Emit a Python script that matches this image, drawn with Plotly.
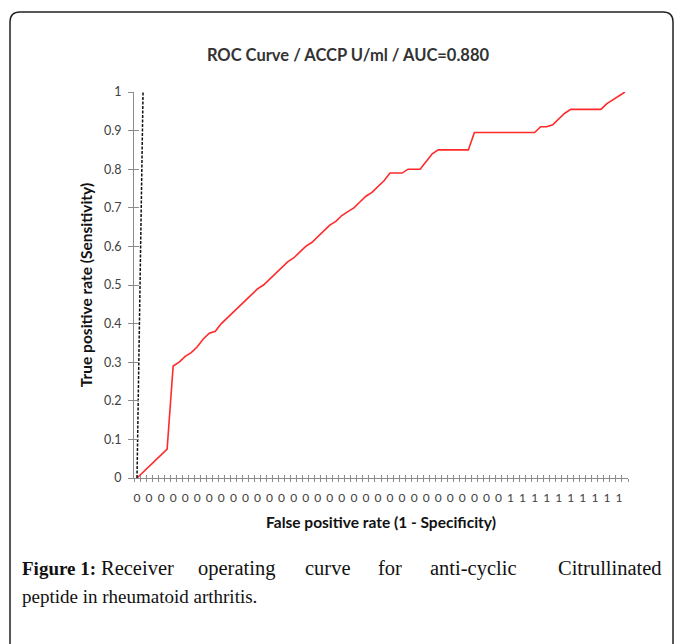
import plotly.graph_objects as go

# ---------------- data ----------------
tpr = [0.0, 0.015, 0.03, 0.045, 0.06, 0.075, 0.29, 0.30, 0.315, 0.325,
       0.34, 0.36, 0.375, 0.38, 0.40, 0.415, 0.43, 0.445, 0.46, 0.475,
       0.49, 0.50, 0.515, 0.53, 0.545, 0.56, 0.57, 0.585, 0.60, 0.61,
       0.625, 0.64, 0.655, 0.665, 0.68, 0.69, 0.70, 0.715, 0.73, 0.74,
       0.755, 0.77, 0.79, 0.79, 0.79, 0.80, 0.80, 0.80, 0.82, 0.84,
       0.85, 0.85, 0.85, 0.85, 0.85, 0.85, 0.895, 0.895, 0.895, 0.895,
       0.895, 0.895, 0.895, 0.895, 0.895, 0.895, 0.895, 0.91, 0.91, 0.915,
       0.93, 0.945, 0.955, 0.955, 0.955, 0.955, 0.955, 0.955, 0.97, 0.98,
       0.99, 1.0]
ref_line = [0, 1]
x_tick_labels = ["0", "0", "0", "0", "0", "0", "0", "0", "0", "0",
                 "0", "0", "0", "0", "0", "0", "0", "0", "0", "0",
                 "0", "0", "0", "0", "0", "0", "0", "0", "0", "0",
                 "0", "1", "1", "1", "1", "1", "1", "1", "1", "1", "1"]
y_ticks = [0, 0.1, 0.2, 0.3, 0.4, 0.5, 0.6, 0.7, 0.8, 0.9, 1]

title_text = "ROC Curve / ACCP U/ml / AUC=0.880"
x_title = "False positive rate (1 - Specificity)"
y_title = "True positive rate (Sensitivity)"
caption_line1 = [("<b>Figure 1:</b>", 20), ("Receiver", 99),
                 ("operating", 196), ("curve", 303),
                 ("for", 376), ("anti-cyclic", 428),
                 ("Citrullinated", 556)]
caption_line2 = "peptide in rheumatoid arthritis."

# ---------------- layout geometry (pixels) ----------------
W, H = 683, 644
PL, PR, PT, PB = 134, 628, 92, 478


def fx(X):
    return (X - PL) / (PR - PL)


def fy(Y):
    return (PB - Y) / (PB - PT)


n = len(tpr)
idx = list(range(n))
label_pos = idx[::2]
boundaries = [i - 0.5 for i in range(n + 1)]
xr = [-0.5, n - 0.5]

AX = "#8c8c8c"
TXT = "#404040"
FONT = "Lato"

fig = go.Figure()
fig.add_trace(go.Scatter(x=idx, y=tpr, mode="lines",
                         line=dict(color="#ff2a2a", width=1.6),
                         hoverinfo="skip", showlegend=False))
fig.add_trace(go.Scatter(x=idx[:len(ref_line)], y=ref_line, mode="lines",
                         line=dict(color="#111111", width=1.5, dash="3px,1.5px"),
                         hoverinfo="skip", showlegend=False))
# empty traces so the overlay tick axes are drawn
for xa, ya in (("x2", "y"), ("x3", "y"), ("x", "y2")):
    fig.add_trace(go.Scatter(x=[], y=[], xaxis=xa, yaxis=ya, mode="lines",
                             hoverinfo="skip", showlegend=False))

border = (f"M {fx(10)},{fy(700)} L {fx(10)},{fy(22)} "
          f"Q {fx(10)},{fy(12)} {fx(20)},{fy(12)} "
          f"L {fx(663)},{fy(12)} Q {fx(673)},{fy(12)} {fx(673)},{fy(22)} "
          f"L {fx(673)},{fy(700)}")

annotations = []
for word, x0 in caption_line1:
    size = 19 if word.startswith("<b>") else 20.5
    annotations.append(dict(text=word, x=fx(x0), y=fy(568), xref="paper", yref="paper",
                            xanchor="left", yanchor="middle", showarrow=False,
                            font=dict(family="Liberation Serif", size=size, color="#111111")))
annotations.append(dict(text=caption_line2, x=fx(20), y=fy(596), xref="paper", yref="paper",
                        xanchor="left", yanchor="middle", showarrow=False,
                        font=dict(family="Liberation Serif", size=19, color="#111111")))

fig.update_layout(
    width=W, height=H,
    margin=dict(l=PL, r=W - PR, t=PT, b=H - PB),
    paper_bgcolor="white", plot_bgcolor="white",
    showlegend=False,
    title=dict(text=title_text, x=348 / W, xref="container", xanchor="center",
               y=1 - 55 / H, yref="container", yanchor="middle",
               font=dict(family=FONT, size=16.5, color="#333333", weight="bold")),
    xaxis=dict(range=xr, tickmode="array", tickvals=label_pos, ticktext=x_tick_labels,
               ticks="", showline=True, linecolor=AX, linewidth=1,
               showgrid=False, zeroline=False, ticklabelstandoff=9,
               tickfont=dict(family=FONT, size=12, color=TXT),
               title=dict(text=x_title, standoff=12,
                          font=dict(family=FONT, size=15.5, color="#111111", weight="bold"))),
    xaxis2=dict(range=xr, overlaying="x", anchor="y", side="bottom",
                tickmode="array", tickvals=boundaries, ticks="inside", ticklen=3,
                tickcolor=AX, showticklabels=False, showline=False,
                showgrid=False, zeroline=False),
    xaxis3=dict(range=xr, overlaying="x", anchor="y", side="bottom",
                tickmode="array", tickvals=boundaries, ticks="outside", ticklen=3,
                tickcolor=AX, showticklabels=False, showline=False,
                showgrid=False, zeroline=False),
    yaxis=dict(range=[0, 1], tickmode="array", tickvals=y_ticks,
               ticks="outside", ticklen=5, tickcolor=AX,
               showline=True, linecolor=AX, linewidth=1,
               showgrid=False, zeroline=False, ticklabelstandoff=4,
               tickfont=dict(family=FONT, size=12.5, color=TXT),
               title=dict(text=y_title, standoff=7,
                          font=dict(family=FONT, size=15.5, color="#111111", weight="bold"))),
    yaxis2=dict(range=[0, 1], overlaying="y", anchor="x", side="left",
                tickmode="array", tickvals=y_ticks, ticks="inside", ticklen=5,
                tickcolor=AX, showticklabels=False, showline=False,
                showgrid=False, zeroline=False),
    shapes=[dict(type="path", path=border, xref="paper", yref="paper",
                 line=dict(color="#222222", width=1.5), layer="above")],
    annotations=annotations,
)

fig.write_html("out.html", config={"displayModeBar": False},
               post_script="document.body.style.margin='0px';")
